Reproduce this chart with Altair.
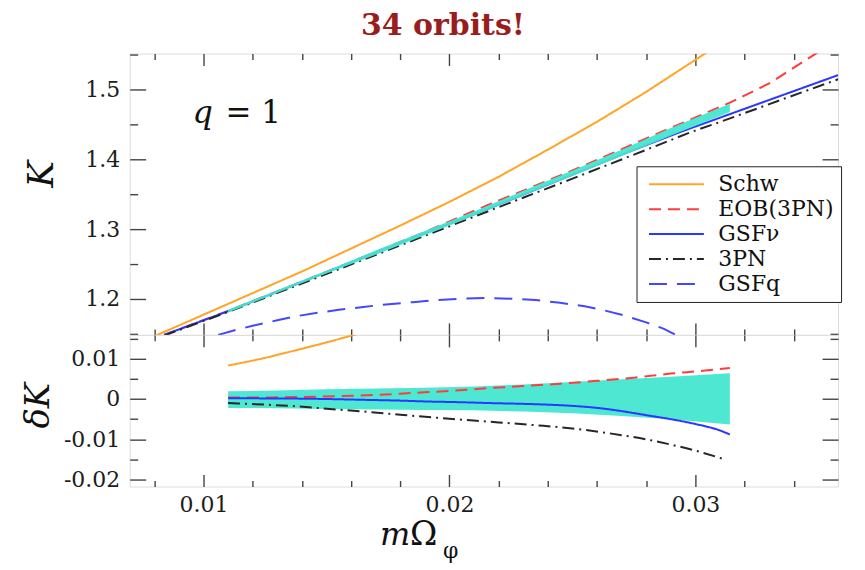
import altair as alt
import pandas as pd

# ---------------- data ----------------
series_names = ["Schw", "EOB(3PN)", "GSFν", "3PN", "GSFq"]

# upper panel: K versus m*Omega_phi
schw_x = [0.0080, 0.0100, 0.0120, 0.0140, 0.0160, 0.0180, 0.0200, 0.0220, 0.0240, 0.0260, 0.0280, 0.0300, 0.0310]
schw_K = [1.146, 1.177, 1.208, 1.239, 1.272, 1.305, 1.339, 1.375, 1.414, 1.454, 1.497, 1.543, 1.566]

eob_x = [0.0084, 0.0110, 0.0130, 0.0150, 0.0170, 0.0190, 0.0215, 0.0250, 0.0280, 0.0314, 0.0330, 0.0349, 0.0355]
eob_K = [1.148, 1.1825, 1.2103, 1.2385, 1.267, 1.2958, 1.3335, 1.384, 1.430, 1.4815, 1.509, 1.552, 1.563]

gsfn_x = [0.0084, 0.0110, 0.0150, 0.0190, 0.0215, 0.0250, 0.0273, 0.0294, 0.0314, 0.0336, 0.0358]
gsfn_K = [1.148, 1.182, 1.238, 1.294, 1.328, 1.378, 1.411, 1.4395, 1.465, 1.493, 1.521]

pn3_x = [0.0084, 0.0110, 0.0138, 0.0165, 0.0200, 0.0249, 0.0280, 0.0298, 0.0311, 0.0336, 0.0358]
pn3_K = [1.147, 1.181, 1.219, 1.256, 1.304, 1.371, 1.4137, 1.439, 1.455, 1.487, 1.515]

gsfq_x = [0.0106, 0.0113, 0.0120, 0.0130, 0.0138, 0.0147, 0.0155, 0.0165, 0.0172, 0.0185, 0.0195,
          0.0205, 0.0215, 0.0225, 0.0235, 0.0245, 0.0255, 0.0262, 0.0270, 0.0280, 0.0287, 0.0292]
gsfq_K = [1.148, 1.155, 1.161, 1.169, 1.175, 1.180, 1.184, 1.188, 1.191, 1.195, 1.198,
          1.200, 1.201, 1.200, 1.198, 1.194, 1.189, 1.184, 1.177, 1.166, 1.157, 1.148]

band_x = [0.011, 0.013, 0.015, 0.017, 0.019, 0.021, 0.023, 0.025, 0.027, 0.029, 0.0314]
band_K_hi = [1.184, 1.212, 1.240, 1.269, 1.297, 1.325, 1.355, 1.384, 1.414, 1.445, 1.480]
band_K_lo = [1.180, 1.208, 1.236, 1.263, 1.291, 1.319, 1.348, 1.376, 1.405, 1.434, 1.468]

# lower panel: delta K
band_d_hi = [0.0019, 0.0021, 0.0024, 0.0026, 0.0028, 0.0031, 0.0036, 0.0042, 0.0049, 0.0055, 0.0064]
band_d_lo = [-0.0022, -0.0023, -0.0025, -0.0026, -0.0027, -0.0028, -0.0031, -0.0035, -0.0042, -0.0050, -0.0063]

schw_d_x = [0.0110, 0.0125, 0.0135, 0.0148, 0.0160, 0.0166]
schw_d = [0.0083, 0.0102, 0.0117, 0.0137, 0.0157, 0.0167]

eob_d_x = [0.0110, 0.0125, 0.0140, 0.0155, 0.0170, 0.0185, 0.0200, 0.0216, 0.0230, 0.0245, 0.0260,
           0.0275, 0.0290, 0.0303, 0.0314]
eob_d = [0.0004, 0.0004, 0.0005, 0.0007, 0.0010, 0.0015, 0.0020, 0.0027, 0.0032, 0.0038, 0.0045,
         0.0053, 0.0063, 0.0070, 0.0077]

gsfn_d_x = [0.0110, 0.0125, 0.0138, 0.0150, 0.0165, 0.0180, 0.0190, 0.0205, 0.0216, 0.0230, 0.0240,
            0.0250, 0.0260, 0.0270, 0.0280, 0.0290, 0.0300, 0.0310, 0.0314]
gsfn_d = [0.0002, 0.00015, 0.0001, 0.0000, -0.0002, -0.0004, -0.0006, -0.0008, -0.0010, -0.0012, -0.0014,
          -0.0017, -0.0022, -0.0030, -0.0040, -0.0050, -0.0062, -0.0078, -0.0088]

pn3_d_x = [0.0110, 0.0125, 0.0138, 0.0150, 0.0165, 0.0180, 0.0200, 0.0220, 0.0235, 0.0250, 0.0265,
           0.0280, 0.0290, 0.0300, 0.0311]
pn3_d = [-0.0010, -0.0014, -0.0018, -0.0024, -0.0031, -0.0039, -0.0049, -0.0058, -0.0065, -0.0073, -0.0085,
         -0.0100, -0.0113, -0.0128, -0.0148]

# axis ticks
x_major = [0.01, 0.02, 0.03]
x_minor = [0.008, 0.012, 0.014, 0.016, 0.018, 0.022, 0.024, 0.026, 0.028, 0.032, 0.034]
k_major = [1.2, 1.3, 1.4, 1.5]
k_minor = [1.15, 1.25, 1.35, 1.45, 1.55]
d_major = [-0.02, -0.01, 0.0, 0.01]
d_minor = [-0.015, -0.005, 0.005, 0.015]

X_DOMAIN = [0.007, 0.0358]
K_DOMAIN = [1.148, 1.552]
D_DOMAIN = [-0.0217, 0.0159]

# annotation anchor (data coordinates)
Q_X, EQ_X, Q_K = 0.00955, 0.01090, 1.4517

# ---------------- styles ----------------
W, H_TOP, H_BOT = 710, 282, 152
SERIF = "DejaVu Serif"
colors = ["#FFA424", "#FF3C3C", "#2B36FF", "#262626", "#4646FF"]
dashes = [[1, 0], [12, 7], [1, 0], [12, 5, 2, 5], [18, 10]]
BAND = "#44E6D0"


def rows(name, xs, ys):
    return [{"x": a, "y": b, "s": name} for a, b in zip(xs, ys)]


top_lines = pd.DataFrame(
    rows("Schw", schw_x, schw_K) + rows("EOB(3PN)", eob_x, eob_K) + rows("GSFν", gsfn_x, gsfn_K)
    + rows("3PN", pn3_x, pn3_K) + rows("GSFq", gsfq_x, gsfq_K)
)
band_top_df = pd.DataFrame({"x": band_x, "lo": band_K_lo, "hi": band_K_hi})
band_bot_df = pd.DataFrame({"x": band_x, "lo": band_d_lo, "hi": band_d_hi})


def ax(orient, values, size, labels=False, fmt=None, expr=None, pad=9):
    kw = dict(orient=orient, values=values, tickSize=size, offset=-size, domain=False, grid=False,
              title=None, labels=labels, ticks=True, tickColor="#444444", tickWidth=1.4)
    if labels:
        kw.update(labelFont=SERIF, labelFontSize=22, labelColor="#1c1c1c", labelPadding=pad)
        if fmt:
            kw["format"] = fmt
        if expr:
            kw["labelExpr"] = expr
    return alt.Axis(**kw)


def note(text, x, y, size, style="normal", weight="normal", color="#111111", angle=0,
         align="center", baseline="middle"):
    return alt.Chart(pd.DataFrame({"t": [text]})).mark_text(
        font=SERIF, fontSize=size, fontStyle=style, fontWeight=weight, color=color,
        angle=angle, align=align, baseline=baseline
    ).encode(x=alt.value(x), y=alt.value(y), text="t:N")


xs = alt.Scale(domain=X_DOMAIN, nice=False, zero=False)
ks = alt.Scale(domain=K_DOMAIN, nice=False, zero=False)
ds = alt.Scale(domain=D_DOMAIN, nice=False, zero=False)

legend = alt.Legend(
    title=None, orient="none", legendX=508, legendY=113,
    symbolType="M-1,0H9", symbolSize=121, symbolStrokeWidth=2,
    labelFont=SERIF, labelFontSize=22, labelColor="#111111", labelOffset=53,
    labelExpr="datum.label + '\u00a0\u00a0\u00a0'",
    padding=7, rowPadding=3, strokeColor="#222222", fillColor="white",
)

# ---------------- upper panel ----------------
lines_top = alt.Chart(top_lines).mark_line(strokeWidth=2, clip=True).encode(
    x=alt.X("x:Q", scale=xs, axis=ax("bottom", x_minor, 6)),
    y=alt.Y("y:Q", scale=ks, axis=ax("left", k_minor, 8)),
    color=alt.Color("s:N", scale=alt.Scale(domain=series_names, range=colors), legend=legend),
    strokeDash=alt.StrokeDash("s:N", scale=alt.Scale(domain=series_names, range=dashes), legend=legend),
)

band_top = alt.Chart(band_top_df).mark_area(color=BAND, opacity=0.95, clip=True).encode(
    x=alt.X("x:Q", scale=xs, axis=ax("bottom", x_major, 12)),
    y=alt.Y("lo:Q", scale=ks, axis=ax("left", k_major, 16, labels=True, fmt=".1f", pad=10)),
    y2="hi:Q",
)

q_layer = alt.Chart(pd.DataFrame({"x": [Q_X], "y": [Q_K], "t": ["q"]})).mark_text(
    font=SERIF, fontSize=32, fontStyle="italic", align="left", baseline="alphabetic", color="#111111"
).encode(
    x=alt.X("x:Q", scale=xs, axis=ax("top", x_major, 12)),
    y=alt.Y("y:Q", scale=ks, axis=ax("right", k_major, 16)),
    text="t:N",
)

eq_layer = alt.Chart(pd.DataFrame({"x": [EQ_X], "y": [Q_K], "t": ["= 1"]})).mark_text(
    font=SERIF, fontSize=31, align="left", baseline="alphabetic", color="#111111"
).encode(
    x=alt.X("x:Q", scale=xs, axis=ax("top", x_minor, 6)),
    y=alt.Y("y:Q", scale=ks, axis=ax("right", k_minor, 8)),
    text="t:N",
)

anchor = alt.Chart(pd.DataFrame({"a": [0]})).mark_rect(opacity=0).encode(
    x=alt.value(-129), x2=alt.value(736), y=alt.value(-52), y2=alt.value(518)
)

title_l = note("34 orbits!", 314, -19, 30, weight="bold", color="#9A1D1D", baseline="alphabetic")
k_l = note("K", -88, 121, 36, style="italic", angle=270)

top = alt.layer(
    anchor, lines_top, band_top, q_layer, eq_layer, title_l, k_l
).resolve_axis(x="independent", y="independent").properties(width=W, height=H_TOP)

# ---------------- lower panel ----------------
band_bot = alt.Chart(band_bot_df).mark_area(color=BAND, opacity=0.95, clip=True).encode(
    x=alt.X("x:Q", scale=xs, axis=ax("bottom", x_major, 12, labels=True, fmt=".2f", pad=8)),
    y=alt.Y("lo:Q", scale=ds, axis=ax(
        "left", d_major, 16, labels=True, pad=10,
        expr="datum.value == 0 ? '0' : (datum.value < 0 ? '-' + format(-datum.value, '.2f') : format(datum.value, '.2f'))",
    )),
    y2="hi:Q",
)


def dline(xv, yv, color, dash, xaxis, yaxis):
    df = pd.DataFrame({"x": xv, "y": yv})
    return alt.Chart(df).mark_line(color=color, strokeDash=dash, strokeWidth=2, clip=True,
                                   interpolate="monotone").encode(
        x=alt.X("x:Q", scale=xs, axis=xaxis),
        y=alt.Y("y:Q", scale=ds, axis=yaxis),
    )


schw_b = dline(schw_d_x, schw_d, colors[0], dashes[0], ax("bottom", x_minor, 6), ax("left", d_minor, 8))
eob_b = dline(eob_d_x, eob_d, colors[1], dashes[1], ax("top", x_major, 12), ax("right", d_major, 16))
gsfn_b = dline(gsfn_d_x, gsfn_d, colors[2], dashes[2], ax("top", x_minor, 6), ax("right", d_minor, 8))
pn3_b = dline(pn3_d_x, pn3_d, colors[3], dashes[3], None, None)

dk_l = note("δK", -91, 71, 34, style="italic", angle=270)
m_l = note("m", 251, 211, 32, style="italic", align="left", baseline="alphabetic")
om_l = note("Ω", 281, 211, 33, align="left", baseline="alphabetic")
phi_l = note("φ", 314, 224, 22, align="left", baseline="alphabetic")

bot = alt.layer(
    band_bot, schw_b, eob_b, gsfn_b, pn3_b, dk_l, m_l, om_l, phi_l
).resolve_axis(x="independent", y="independent").properties(width=W, height=H_BOT)

chart = alt.vconcat(top, bot, spacing=0, bounds="flush").properties(
    padding=0
).configure_view(stroke="#444444", strokeWidth=1.5).configure(background="white").configure_legend(
    labelFont=SERIF, labelFontSize=22
)

chart.save("out.html", embed_options={"renderer": "svg", "actions": False})
